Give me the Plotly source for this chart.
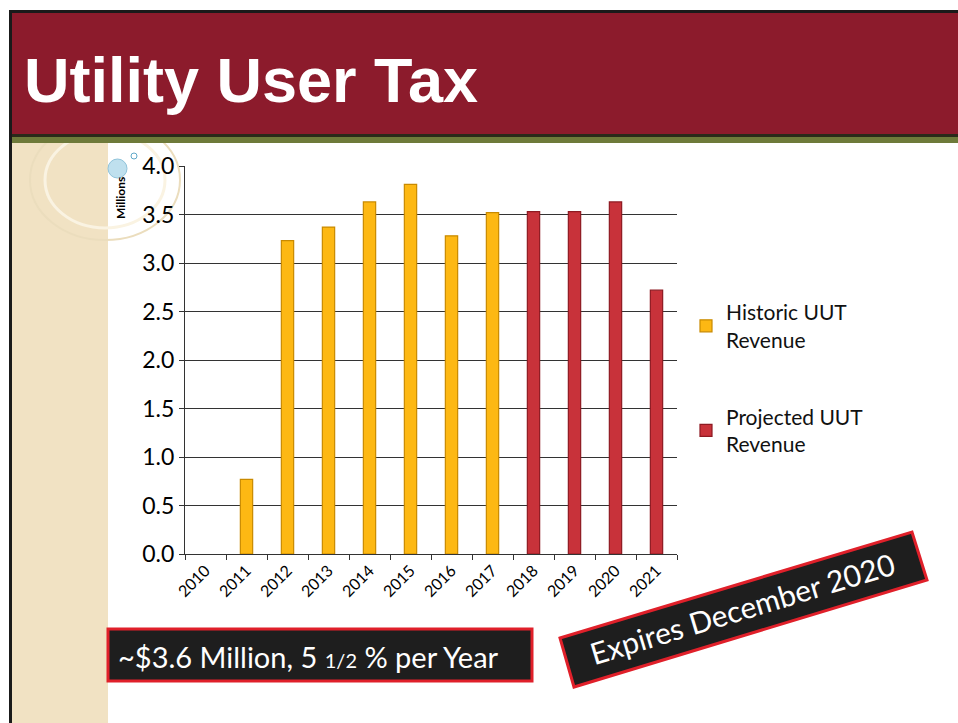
import plotly.graph_objects as go

# ---------------- data ----------------
years = ["2010", "2011", "2012", "2013", "2014", "2015", "2016", "2017",
         "2018", "2019", "2020", "2021"]
historic = [None, 0.77, 3.23, 3.37, 3.63, 3.81, 3.28, 3.52, None, None, None, None]
projected = [None, None, None, None, None, None, None, None, 3.53, 3.53, 3.63, 2.72]
ytick_vals = [0.0, 0.5, 1.0, 1.5, 2.0, 2.5, 3.0, 3.5, 4.0]
ytick_text = ["0.0", "0.5", "1.0", "1.5", "2.0", "2.5", "3.0", "3.5", "4.0"]
series_names = ["Historic UUT<br>Revenue", "Projected UUT<br>Revenue"]
title_text = "Utility User Tax"
box1_text = "~$3.6 Million, 5 <span style='font-size:20px'>1/2</span> % per Year"
box2_text = "Expires December 2020"

W, H = 958, 723
L, R, T, B = 185, 958 - 677, 166, 723 - 554
PW, PH = W - L - R, H - T - B

def px(x):
    return (x - L) / PW

def py(y):
    return (H - B - y) / PH

FONT = "Lato, 'Open Sans', sans-serif"

fig = go.Figure()
fig.add_trace(go.Bar(
    x=years, y=historic, name=series_names[0], width=0.3,
    marker=dict(color="#FDB813", line=dict(color="#C98A00", width=1.2)),
    legendgroup="h",
))
fig.add_trace(go.Bar(
    x=years, y=projected, name=series_names[1], width=0.3,
    marker=dict(color="#C8323A", line=dict(color="#8E1A22", width=1.2)),
    legendgroup="p",
))

shapes = []
shapes.append(dict(type="rect", xref="paper", yref="paper", layer="below",
                   x0=px(0), x1=px(W), y0=py(H), y1=py(0),
                   fillcolor="white", line=dict(width=0)))
# left beige strip
shapes.append(dict(type="rect", xref="paper", yref="paper", layer="below",
                   x0=px(12), x1=px(108), y0=py(H), y1=py(140),
                   fillcolor="#F1E2C3", line=dict(width=0)))
# decorative arcs
shapes.append(dict(type="circle", xref="paper", yref="paper", layer="below",
                   x0=px(30), x1=px(180), y0=py(240), y1=py(120),
                   fillcolor="rgba(0,0,0,0)", line=dict(color="#EBDDBD", width=2)))
shapes.append(dict(type="circle", xref="paper", yref="paper", layer="below",
                   x0=px(45), x1=px(165), y0=py(228), y1=py(132),
                   fillcolor="rgba(0,0,0,0)", line=dict(color="#FAF3E2", width=3)))
# left black border line
shapes.append(dict(type="rect", xref="paper", yref="paper", layer="below",
                   x0=px(9), x1=px(12), y0=py(H), y1=py(10),
                   fillcolor="#1a1a1a", line=dict(width=0)))
# header
shapes.append(dict(type="rect", xref="paper", yref="paper", layer="below",
                   x0=px(9), x1=px(W), y0=py(13), y1=py(10),
                   fillcolor="#1a1a1a", line=dict(width=0)))
shapes.append(dict(type="rect", xref="paper", yref="paper", layer="below",
                   x0=px(12), x1=px(W), y0=py(136), y1=py(13),
                   fillcolor="#8C1B2C", line=dict(width=0)))
shapes.append(dict(type="rect", xref="paper", yref="paper", layer="below",
                   x0=px(12), x1=px(W), y0=py(137), y1=py(134),
                   fillcolor="#2a2a1a", line=dict(width=0)))
shapes.append(dict(type="rect", xref="paper", yref="paper", layer="below",
                   x0=px(12), x1=px(W), y0=py(143), y1=py(137),
                   fillcolor="#6E7A3A", line=dict(width=0)))
# small bubble
shapes.append(dict(type="circle", xref="paper", yref="paper", layer="above",
                   x0=px(108), x1=px(127), y0=py(178), y1=py(159),
                   fillcolor="#BFE0EE", line=dict(color="#8FC3DA", width=1)))
shapes.append(dict(type="circle", xref="paper", yref="paper", layer="above",
                   x0=px(131), x1=px(137), y0=py(159), y1=py(153),
                   fillcolor="white", line=dict(color="#5FA8C8", width=1)))

# box 1
shapes.append(dict(type="rect", xref="paper", yref="paper", layer="above",
                   x0=px(108), x1=px(532), y0=py(681), y1=py(629),
                   fillcolor="#1E1E1E", line=dict(color="#E0202A", width=3)))
# box 2 (rotated polygon)
corners = [(560, 638), (912, 532), (927, 580), (574, 687)]
path = "M " + " L ".join(f"{px(x)},{py(y)}" for x, y in corners) + " Z"
shapes.append(dict(type="path", xref="paper", yref="paper", layer="above",
                   path=path, fillcolor="#1E1E1E", line=dict(color="#E0202A", width=3)))

TITLE_FONT = "'Liberation Sans', Arial, sans-serif"
annotations = [
    dict(text=f"<b>{title_text}</b>", xref="paper", yref="paper",
         x=px(22), y=py(80), xanchor="left", yanchor="middle", showarrow=False,
         font=dict(family=TITLE_FONT, size=63, color="white")),
    dict(text="<b>Millions</b>", xref="paper", yref="paper", textangle=-90,
         x=px(120), y=py(198), xanchor="center", yanchor="middle", showarrow=False,
         font=dict(family=FONT, size=12, color="black")),
    dict(text=box1_text, xref="paper", yref="paper",
         x=px(116), y=py(656), xanchor="left", yanchor="middle", showarrow=False,
         font=dict(family=FONT, size=29, color="white")),
    dict(text=box2_text, xref="paper", yref="paper", textangle=-16.8,
         x=px(742), y=py(608), xanchor="center", yanchor="middle", showarrow=False,
         font=dict(family=FONT, size=30, color="white")),
]

fig.update_layout(
    width=W, height=H,
    margin=dict(l=L, r=R, t=T, b=B, autoexpand=False),
    paper_bgcolor="white", plot_bgcolor="rgba(0,0,0,0)",
    barmode="overlay",
    showlegend=True,
    legend=dict(x=px(686), y=py(292), xanchor="left", yanchor="top",
                font=dict(family=FONT, size=21, color="#111"),
                traceorder="grouped", tracegroupgap=47, itemwidth=30,
                bgcolor="rgba(0,0,0,0)"),
    shapes=shapes, annotations=annotations,
    font=dict(family=FONT, color="black"),
)
fig.update_xaxes(type="category", categoryorder="array", categoryarray=years,
                 range=[-0.5, 11.5], tickangle=-45,
                 tickfont=dict(family=FONT, size=16, color="black"),
                 showline=True, linecolor="#333", linewidth=1,
                 ticks="outside", ticklen=5, tickcolor="#333",
                 tickson="boundaries", showgrid=False)
fig.update_yaxes(range=[0, 4.0], tickvals=ytick_vals, ticktext=ytick_text,
                 tickfont=dict(family=FONT, size=23, color="black"),
                 showline=True, linecolor="#333", linewidth=1,
                 ticks="outside", ticklen=5, tickcolor="#333",
                 showgrid=True, gridcolor="#333", gridwidth=1,
                 zeroline=False)

fig.write_html("out.html")
